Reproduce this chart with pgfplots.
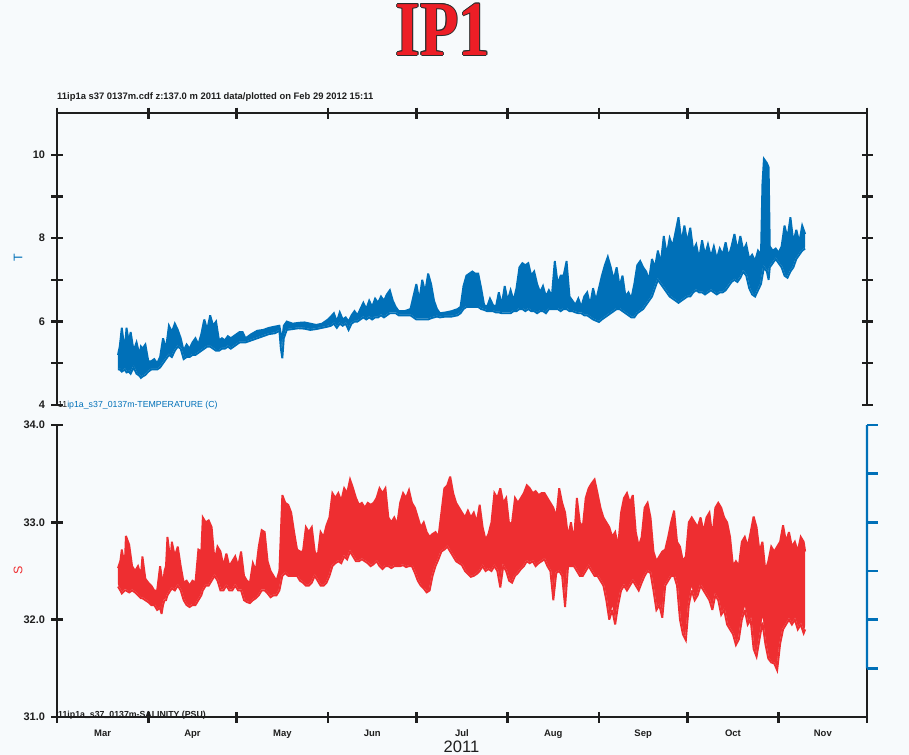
\documentclass[border=0pt]{standalone}
\usepackage{pgfplots}
\pgfplotsset{compat=1.18}
\usepackage{pgfplotstable}
\usetikzlibrary{calc}
\usepackage{fontspec}
\setmainfont{Liberation Sans}
\newfontfamily\titlefont{Liberation Serif}

\definecolor{bgcol}{RGB}{247,250,252}
\definecolor{tcol}{RGB}{0,112,184}
\definecolor{scol}{RGB}{238,46,49}
\definecolor{axcol}{RGB}{30,30,30}
\definecolor{titlered}{RGB}{237,30,38}
\definecolor{outline}{RGB}{45,45,45}

% Temperature (C): envelope of the tidal band, days since 1 Mar 2011
\pgfplotstableread{
day hi lo
20.7 5.20 4.85
21.3 5.40 4.85
22 5.85 4.80
23 5.30 4.85
23.6 5.85 4.78
24.4 5.50 4.80
25 5.75 4.75
26 5.30 4.90
27 5.50 4.75
28 5.20 4.70
28.5 5.40 4.65
29 5.35 4.68
30 5.45 4.72
31 5.05 4.80
32 5.05 4.85
33 5.10 4.85
34 5.00 4.85
35 5.15 4.90
36 5.60 5.00
37 5.35 5.10
38 5.90 5.20
39 5.75 5.15
40 5.95 5.30
41 5.80 5.40
42 5.60 5.35
43 5.30 5.10
44 5.45 5.15
45 5.35 5.15
46 5.50 5.20
47 5.60 5.20
48 5.45 5.25
49 5.70 5.30
50 6.05 5.35
51 5.80 5.40
52 6.15 5.40
53 5.90 5.35
54 6.00 5.30
55 5.55 5.30
56 5.60 5.35
57 5.55 5.35
58 5.65 5.40
59 5.60 5.35
60 5.65 5.40
61 5.70 5.45
62 5.75 5.50
63 5.75 5.50
64 5.60 5.50
66 5.70 5.55
68 5.78 5.60
70 5.80 5.65
72 5.85 5.70
74 5.88 5.72
75.5 5.90 5.78
76 5.70 5.35
76.5 5.60 5.12
77 5.90 5.60
78 6.00 5.80
80 5.95 5.82
82 5.97 5.84
84 5.98 5.83
86 5.95 5.80
88 5.92 5.82
90 5.95 5.85
92 6.05 5.88
93 6.12 5.90
94 6.20 5.95
95 6.00 5.85
96 6.22 5.95
97 6.05 5.90
98 6.10 5.95
99 6.00 5.80
100 6.15 5.95
101 6.25 6.00
102 6.15 6.00
103 6.30 6.05
104 6.45 6.10
105 6.30 6.05
106 6.50 6.10
107 6.35 6.05
108 6.55 6.10
109 6.45 6.10
110 6.60 6.15
111 6.50 6.10
112 6.65 6.15
113 6.75 6.20
114 6.50 6.20
115 6.35 6.20
116 6.25 6.15
118 6.25 6.15
120 6.30 6.15
121 6.60 6.10
122 6.90 6.05
123 6.50 6.05
124 7.00 6.05
125 6.70 6.05
126 7.15 6.05
127 6.90 6.08
128 6.50 6.10
129 6.30 6.12
130 6.20 6.10
132 6.22 6.12
134 6.25 6.12
136 6.30 6.15
137 6.35 6.20
138 6.85 6.30
139 7.10 6.35
140 7.15 6.35
141 7.20 6.35
142 7.15 6.35
143 7.15 6.35
144 6.80 6.30
145 6.40 6.28
146 6.35 6.25
147 6.55 6.25
148 6.40 6.25
149 6.35 6.22
150 6.70 6.22
151 6.40 6.20
152 6.85 6.20
153 6.50 6.20
154 6.75 6.20
155 6.50 6.25
156 6.80 6.25
157 7.30 6.30
158 7.40 6.30
159 7.35 6.25
160 7.40 6.30
161 7.10 6.25
162 7.20 6.25
163 6.90 6.20
164 6.70 6.25
165 6.85 6.25
166 6.60 6.20
167 6.75 6.30
168 6.60 6.30
169 7.45 6.30
170 6.90 6.30
171 7.10 6.25
172 7.10 6.30
173 7.45 6.30
174 6.60 6.25
175 6.50 6.25
176 6.40 6.22
177 6.55 6.20
178 6.35 6.20
179 6.60 6.15
180 6.70 6.15
181 6.40 6.10
182 6.80 6.05
183 6.50 6.02
184 6.80 5.99
185 7.10 6.05
186 7.35 6.10
187 7.55 6.15
188 7.30 6.20
189 7.00 6.25
190 7.30 6.30
191 6.85 6.30
192 7.10 6.25
193 6.60 6.20
194 6.70 6.15
195 6.55 6.10
196 6.90 6.10
197 7.35 6.20
198 7.45 6.25
199 7.30 6.30
200 7.20 6.40
201 7.00 6.50
202 7.50 6.60
203 7.30 6.80
204 7.70 7.00
205 7.40 6.90
206 8.05 6.80
207 7.60 6.70
208 8.00 6.60
209 7.80 6.55
210 8.15 6.50
211 8.50 6.45
212 7.90 6.50
213 8.30 6.55
214 7.90 6.60
215 8.25 6.60
216 7.70 6.70
217 7.85 6.75
218 7.50 6.70
219 7.95 6.70
220 7.60 6.65
221 7.85 6.70
222 7.55 6.75
223 7.80 6.70
224 7.50 6.65
225 7.75 6.70
226 7.60 6.70
227 7.90 6.75
228 7.55 6.85
229 7.80 6.95
230 8.10 7.00
231 7.70 6.95
232 8.05 7.05
233 7.70 7.20
234 7.85 7.10
235 7.50 6.80
236 7.60 6.65
237 7.45 6.60
238 7.70 6.75
239 7.60 6.90
239.5 9.30 7.10
240 9.90 7.30
241 9.80 7.20
241.6 9.70 7.00
242 7.80 7.30
243 7.70 7.40
244 7.75 7.50
245 7.65 7.40
246 7.80 7.30
247 8.30 7.10
248 8.00 7.05
249 8.50 7.20
250 7.90 7.30
251 8.20 7.50
252 7.90 7.60
253 8.30 7.70
254 8.10 7.75
}\tdata

% Salinity (PSU): envelope of the tidal band, days since 1 Mar 2011
\pgfplotstableread{
day hi lo
20.7 32.53 32.34
21.5 32.60 32.30
22 32.72 32.27
23 32.55 32.30
23.4 32.86 32.30
24.5 32.77 32.28
25.5 32.55 32.30
26.5 32.50 32.28
27.5 32.55 32.25
28.5 32.45 32.22
29 32.65 32.22
30 32.42 32.20
31 32.38 32.18
32 32.35 32.15
33 32.30 32.15
34 32.30 32.10
35 32.55 32.12
35.5 32.45 32.06
36 32.35 32.15
36.5 32.50 32.20
37 32.55 32.20
37.5 32.85 32.25
38.5 32.60 32.30
39 32.80 32.32
40 32.65 32.30
41 32.75 32.35
42 32.55 32.30
43 32.38 32.20
44 32.40 32.15
45 32.35 32.13
46 32.40 32.15
47 32.38 32.15
48 32.72 32.20
49 32.70 32.25
49.5 33.05 32.30
50.5 33.00 32.35
51.5 33.02 32.35
52.5 32.95 32.40
53.5 32.60 32.45
54.5 32.75 32.40
55.5 32.70 32.30
56.5 32.55 32.30
57.5 32.68 32.35
58.5 32.55 32.30
59.5 32.60 32.30
60.5 32.65 32.35
61.5 32.55 32.30
62.5 32.70 32.30
63.5 32.45 32.20
64.5 32.40 32.18
65.5 32.38 32.17
66.5 32.58 32.20
67.5 32.50 32.22
68.5 32.75 32.25
69.5 32.92 32.30
70.5 32.90 32.30
71.5 32.60 32.27
72.5 32.50 32.23
73.5 32.45 32.25
74.5 32.40 32.25
75.5 32.50 32.30
76.5 33.28 32.45
77.5 33.20 32.48
78.5 33.18 32.45
79.5 33.10 32.45
80.5 32.90 32.45
81.5 32.72 32.45
82.5 32.70 32.40
83.5 32.70 32.38
84.5 32.95 32.35
85.5 32.90 32.35
86.5 32.95 32.38
87.5 32.70 32.45
88.5 32.65 32.40
89.5 32.90 32.35
90.5 32.85 32.35
91.5 32.97 32.38
92.5 33.05 32.45
93.5 33.30 32.55
94.5 33.25 32.58
95.5 33.30 32.60
96.5 33.22 32.58
97.5 33.35 32.65
98.5 33.30 32.62
99.5 33.44 32.70
100.5 33.35 32.65
101.5 33.25 32.60
102.5 33.18 32.60
103.5 33.20 32.62
104.5 33.15 32.60
105.5 33.20 32.58
106.5 33.18 32.55
107.5 33.20 32.57
108.5 33.25 32.60
109.5 33.35 32.55
110.5 33.30 32.52
111.5 33.35 32.55
112.5 33.05 32.55
113.5 33.00 32.53
114.5 33.05 32.55
115.5 32.98 32.55
116.5 33.20 32.55
117.5 33.30 32.56
118.5 33.25 32.54
119.5 33.33 32.55
120.5 33.20 32.55
121.5 33.15 32.48
122.5 33.05 32.40
123.5 32.95 32.35
124.5 33.00 32.32
125.5 32.90 32.28
126.5 32.85 32.30
127.5 32.88 32.45
128.5 32.90 32.55
129.5 32.85 32.62
130.5 33.10 32.70
131.5 33.35 32.72
132.5 33.38 32.75
133.5 33.47 32.70
134.5 33.30 32.65
135.5 33.20 32.60
136.5 33.15 32.58
137.5 33.10 32.56
138.5 33.05 32.50
139.5 33.12 32.47
140.5 33.05 32.44
141.5 33.10 32.45
142.5 33.00 32.47
143.5 33.18 32.50
144.5 32.95 32.55
145.5 32.82 32.50
146.5 32.88 32.52
147.5 33.00 32.50
148.5 33.30 32.55
149.5 33.25 32.50
150.5 33.35 32.33
151.5 33.20 32.55
152.5 33.25 32.50
153.5 32.98 32.40
154.5 33.00 32.38
155.5 33.25 32.45
156.5 33.20 32.48
157.5 33.25 32.52
158.5 33.30 32.55
159.5 33.38 32.60
160.5 33.35 32.58
161.5 33.30 32.60
162.5 33.32 32.55
163.5 33.28 32.58
164.5 33.30 32.60
165.5 33.30 32.62
166.5 33.25 32.55
167.5 33.20 32.50
168.5 33.15 32.20
169.5 33.05 32.48
170.5 33.35 32.50
171.5 33.20 32.45
172.5 33.10 32.13
173.5 32.85 32.55
174.5 33.00 32.55
175.5 32.80 32.55
176.5 33.25 32.50
177.5 33.00 32.45
178.5 32.95 32.45
179.5 33.25 32.50
180.5 33.35 32.55
181.5 33.40 32.50
182.5 33.44 32.45
183.5 33.30 32.45
184.5 33.15 32.40
185.5 33.05 32.35
186.5 33.00 32.20
187.5 32.95 32.00
188.5 32.85 32.10
189.5 32.90 31.95
190.5 32.75 32.15
191.5 33.10 32.30
192.5 33.25 32.35
193.5 33.30 32.30
194.5 33.20 32.35
195.5 33.28 32.40
196.5 32.90 32.35
197.5 32.75 32.30
198.5 32.85 32.38
199.5 33.15 32.45
200.5 33.20 32.50
201.5 33.05 32.48
202.5 32.70 32.30
203.5 32.60 32.10
204.5 32.65 32.15
205.5 32.70 32.02
206.5 32.72 32.35
207.5 32.85 32.40
208.5 33.00 32.45
209.5 33.12 32.45
210.5 32.80 32.35
211.5 32.75 32.00
212.5 32.60 31.85
213.5 32.65 31.79
214.5 33.00 32.15
215.5 33.05 32.30
216.5 33.00 32.20
217.5 32.95 32.25
218.5 33.05 32.35
219.5 32.90 32.30
220.5 33.05 32.25
221.5 33.10 32.20
222.5 32.85 32.10
223.5 33.15 32.25
224.5 33.20 32.20
225.5 33.15 32.05
226.5 33.05 32.10
227.5 33.00 31.95
228.5 32.85 31.90
229.5 32.55 31.85
230.5 32.60 31.74
231.5 32.55 31.80
232.5 32.80 32.00
233.5 32.85 32.10
234.5 32.75 31.95
235.5 32.90 32.00
236.5 33.06 31.70
237.5 32.95 31.62
238.5 32.70 31.80
239.5 32.80 31.97
240.5 32.50 31.75
241.5 32.60 31.60
242.5 32.75 31.56
243.5 32.70 31.55
244.5 32.75 31.48
245.5 32.80 31.75
246.5 32.97 31.90
247.5 32.80 31.95
248.5 32.90 32.00
249.5 32.75 31.95
250.5 32.80 32.00
251.5 32.70 31.90
252.5 32.85 31.95
253.5 32.80 31.86
254 32.70 31.90
}\sdata

\pgfplotsset{
  panel/.style={
    scale only axis, width=810bp, height=292bp,
    xmin=0, xmax=275,
    axis line style={axcol, line width=2.4bp},
    every tick/.style={axcol, line width=2.4bp},
    tick align=outside,
    major tick length=11bp,
    xtick={0,31,61,92,122,153,184,214,245,275},
    xticklabels={},
    ticklabel style={font=\bfseries\fontsize{11}{12}\selectfont, text=axcol},
    yticklabel style={xshift=-3bp},
    /pgf/number format/assume math mode=true,
    axis on top,
  },
  noarrows/.style={
    x axis line style={-}, y axis line style={-},
    every inner x axis line/.append style={-},
    every outer x axis line/.append style={-},
    every inner y axis line/.append style={-},
    every outer y axis line/.append style={-},
  },
  band/.style={line width=1.9bp, line join=miter, miter limit=4},
  mask/.style={fill=bgcol, draw=bgcol, line width=1.5bp},
}

\begin{document}
\begin{tikzpicture}
\path[use as bounding box, fill=bgcol] (0,0) rectangle (909bp,-755bp);

% title with dark outline
\foreach \dx/\dy in {1.1/0,-1.1/0,0/1.1,0/-1.1,0.8/0.8,-0.8/0.8,0.8/-0.8,-0.8/-0.8}
  \node[inner sep=0, xscale=0.81, text=outline, xshift=\dx bp, yshift=\dy bp] at (443bp,-29.5bp)
    {\titlefont\bfseries\fontsize{78}{78}\selectfont IP1};
\node[inner sep=0, xscale=0.81, text=titlered] at (443bp,-29.5bp)
    {\titlefont\bfseries\fontsize{78}{78}\selectfont IP1};

% header line
\node[anchor=base west, inner sep=0, text=axcol] at (57bp,-99bp)
  {\bfseries\fontsize{9.45}{10}\selectfont 11ip1a s37 0137m.cdf z:137.0 m 2011 data/plotted on Feb 29 2012 15:11};

% temperature panel: right-hand scale
\begin{axis}[panel, at={(57bp,-113bp)}, anchor=north west,
  axis x line=none, axis y line=right, noarrows,
  ymin=4, ymax=11, ytick={4,5,6,7,8,9,10}, yticklabels={},
]
\end{axis}
% temperature panel: band between the extremes, left and top scales
\begin{axis}[panel, at={(57bp,-113bp)}, anchor=north west,
  axis x line=top, axis y line=left, noarrows,
  ymin=4, ymax=11, ytick={4,5,6,7,8,9,10}, yticklabels={4,,6,,8,,10},
]
\addplot[fill=tcol, draw=none] table[x=day, y=hi]{\tdata} \closedcycle;
\addplot[mask] table[x=day, y=lo]{\tdata} \closedcycle;
\addplot[tcol, band] table[x=day, y=hi]{\tdata};
\addplot[tcol, band] table[x=day, y=lo]{\tdata};
\end{axis}

% salinity panel
\begin{axis}[panel, name=sal, at={(57bp,-425bp)}, anchor=north west,
  axis x line=bottom, axis y line=left, noarrows,
  ymin=31, ymax=34, ytick={31,32,33,34}, yticklabels={31.0,32.0,33.0,34.0},
  extra x ticks={15.5,46,76.5,107,137.5,168.5,199,229.5,260},
  extra x tick labels={Mar,Apr,May,Jun,Jul,Aug,Sep,Oct,Nov},
  extra x tick style={major tick length=0pt,
    xticklabel style={font=\bfseries\fontsize{9.5}{10}\selectfont, yshift=-9bp}},
]
\addplot[fill=scol, draw=none] table[x=day, y=hi]{\sdata} \closedcycle;
\addplot[mask] table[x=day, y=lo]{\sdata} \closedcycle;
\addplot[scol, band] table[x=day, y=hi]{\sdata};
\addplot[scol, band] table[x=day, y=lo]{\sdata};
\end{axis}

% right edge of the salinity panel, with its secondary scale 31.5 to 34.0 in steps of 0.5
\draw[axcol, line width=2.4bp] (sal.south east) -- (sal.north east);
\draw[tcol, line width=2.4bp] ($(sal.south east)!1/6!(sal.north east)$) -- (sal.north east);
\foreach \f in {1,2,3,4,5,6}
  \draw[tcol, line width=2.4bp] ($(sal.south east)!\f/6!(sal.north east)$) -- ++(11bp,0);

% variable labels
\node[anchor=base west, inner sep=0] at (58bp,-407.5bp)
  {\fontsize{8.8}{9}\selectfont\textcolor{axcol}{11}\textcolor{tcol}{ip1a\_s37\_0137m-TEMPERATURE (C)}};
\node[anchor=base west, inner sep=0, text=axcol] at (58bp,-717.5bp)
  {\bfseries\fontsize{8.8}{9}\selectfont 11ip1a\_s37\_0137m-SALINITY (PSU)};

\node[rotate=90, text=tcol] at (18bp,-258bp) {\fontsize{12.5}{13}\selectfont T};
\node[rotate=90, text=scol] at (18bp,-570bp) {\fontsize{12.5}{13}\selectfont S};

\node[anchor=base, inner sep=0, text=axcol] at (461.5bp,-752.5bp)
  {\fontsize{16.6}{17}\selectfont 2011};
\end{tikzpicture}
\end{document}
